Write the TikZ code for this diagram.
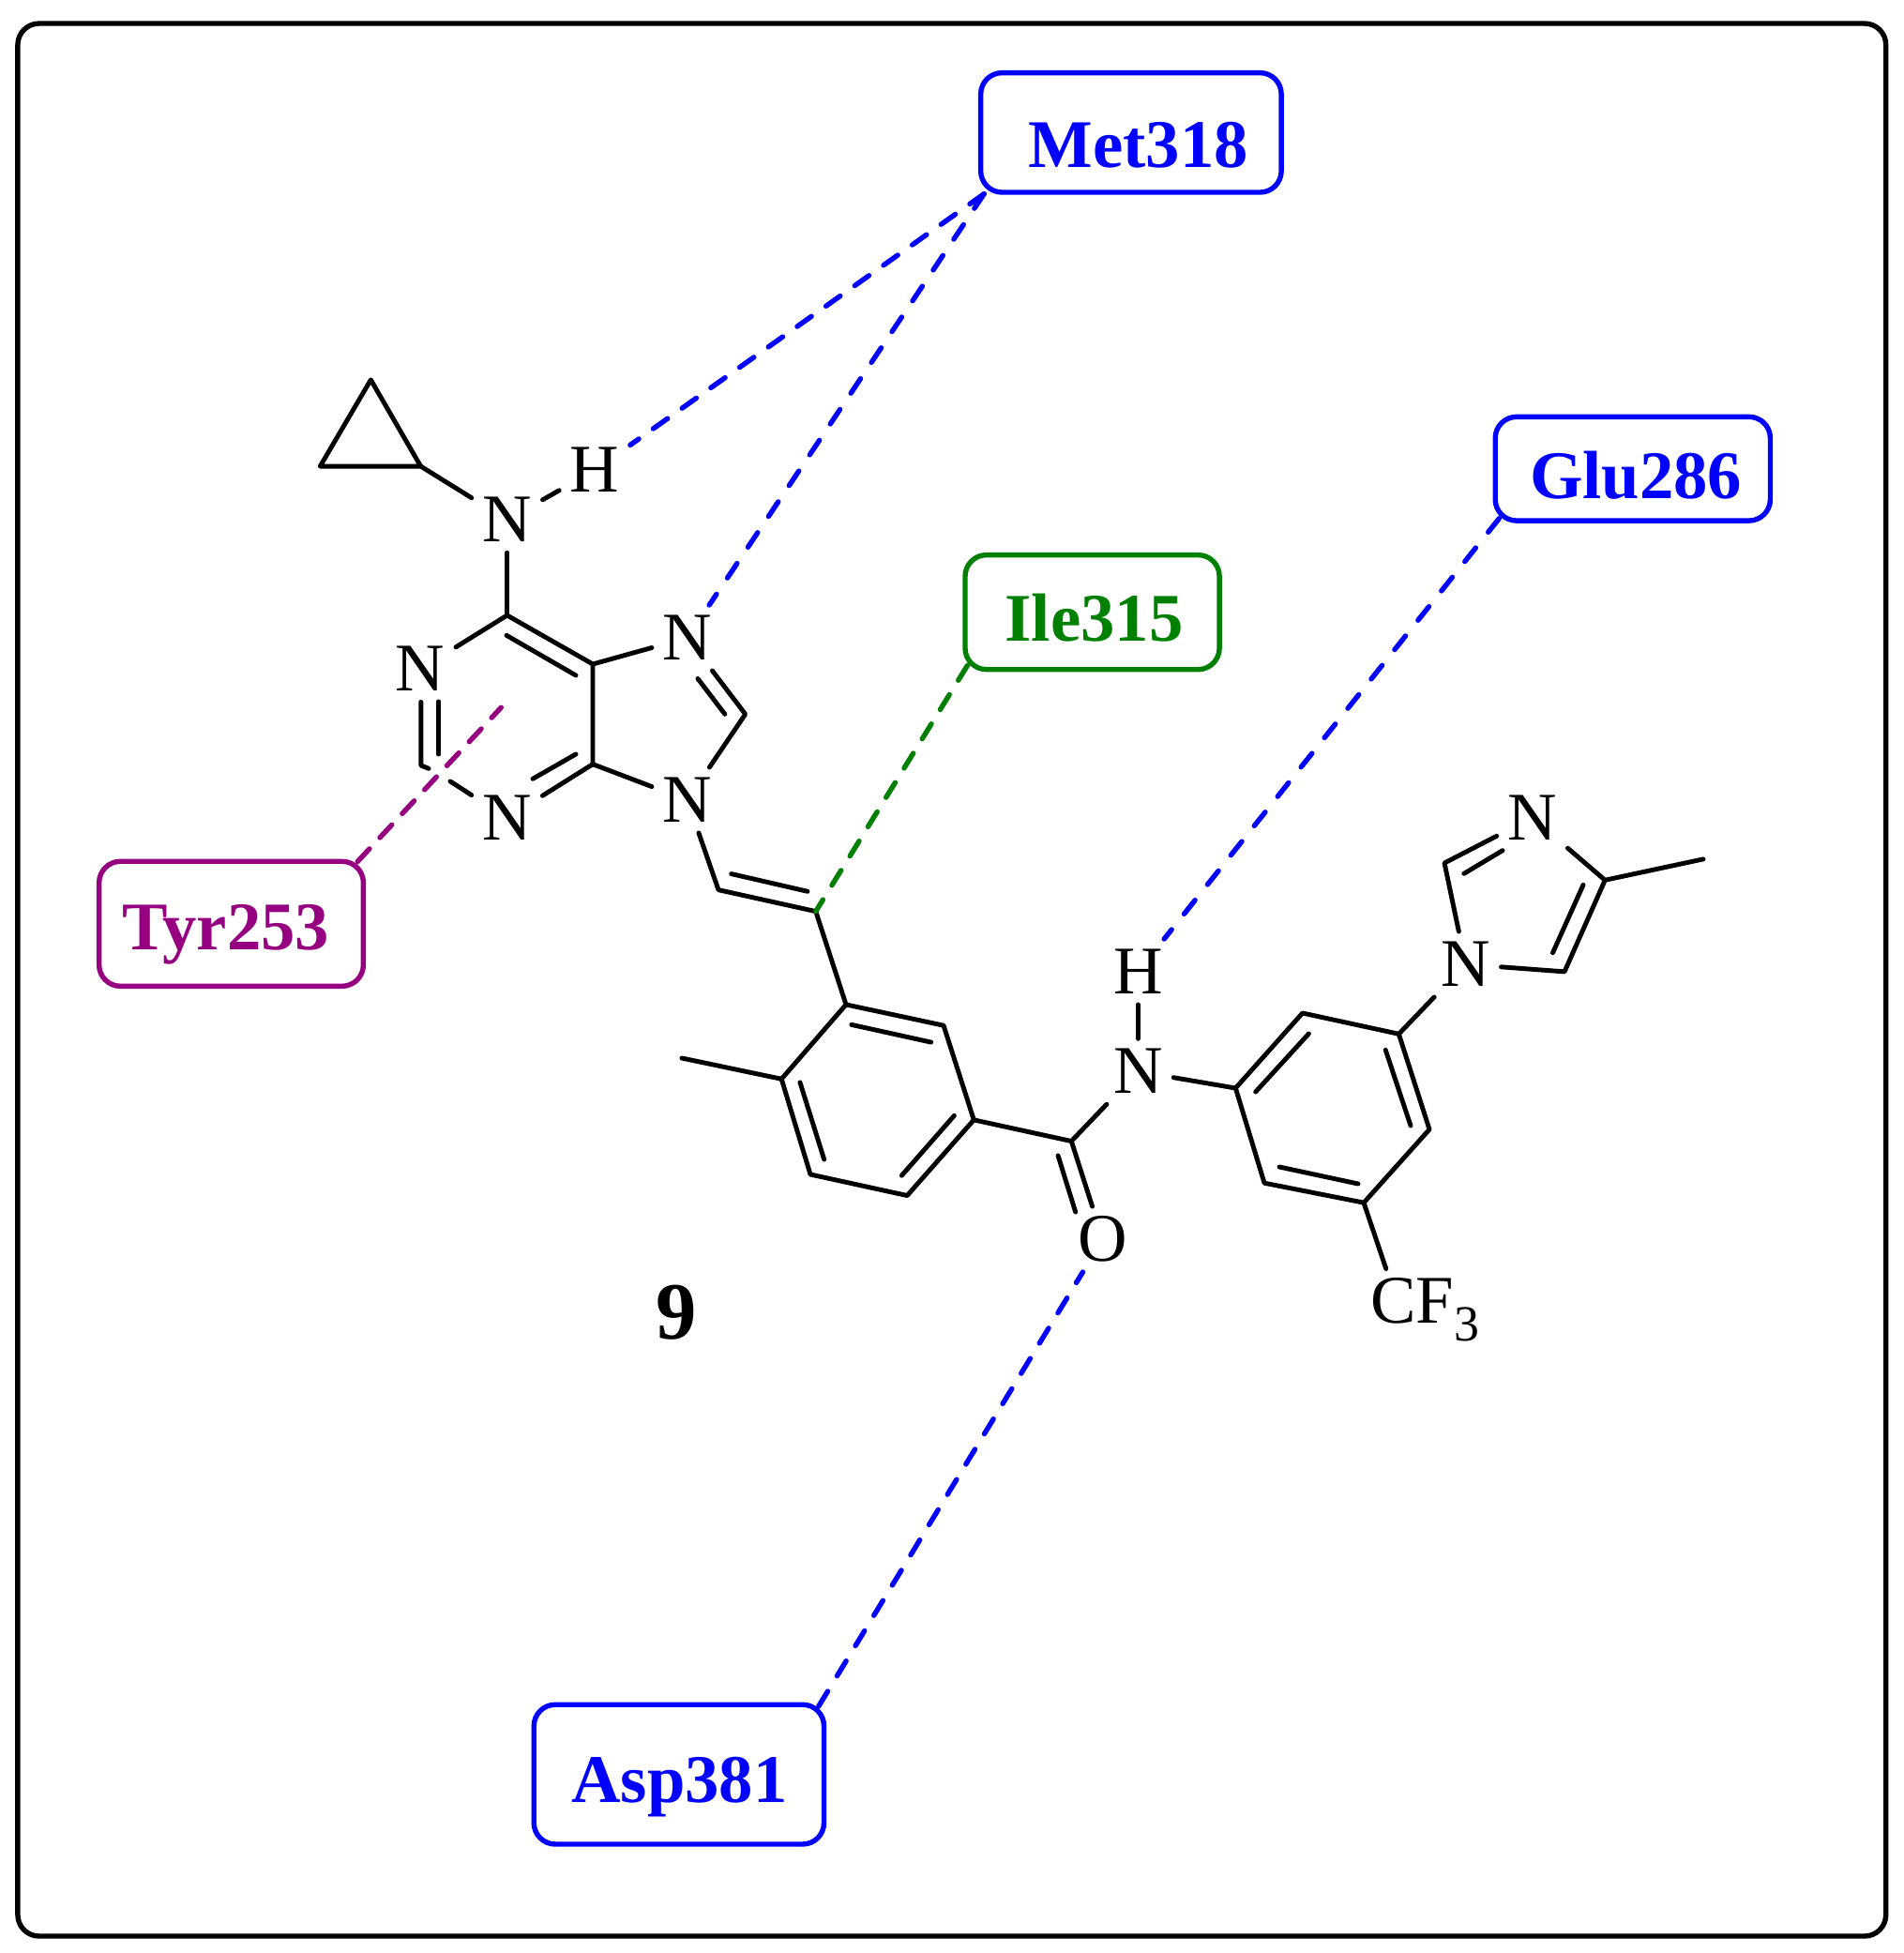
\documentclass[tikz,border=0pt]{standalone}
\usepackage{fontspec}
\setmainfont{Liberation Serif}
\usetikzlibrary{calc}
\definecolor{tyrpurple}{HTML}{960080}
\definecolor{ilegreen}{HTML}{008000}
\tikzset{
 bond/.style={line width=1.05pt,line cap=round,line join=round},
 atom/.style={inner sep=0.08cm,text height=0.35cm,text depth=0pt,font=\fontsize{15.5}{15.5}\selectfont},
 resbox/.style={draw=#1,text=#1,line width=1.15pt,rounded corners=0.17cm,inner sep=0pt,text depth=0pt,font=\fontsize{15.5}{15.5}\selectfont\bfseries},
 contact/.style={draw=#1,line width=1.15pt,line cap=round}
}
\begin{document}
\begin{tikzpicture}[x=0.01cm,y=-0.01cm]
 \useasboundingbox (0,0) rectangle (1522.5,1561.5);
 \draw[line width=1.15pt,rounded corners=0.17cm] (14.2,18.8) rectangle (1508,1548);
 % residues
 \node[resbox=blue,minimum width=2.402cm,minimum height=0.955cm,text height=0.562cm] (met) at (904.4,106) {\hspace*{0.118cm}Met318};
 \node[resbox=blue,minimum width=2.198cm,minimum height=0.83cm,text height=0.482cm] (glu) at (1305.6,374.8) {\hspace*{0.05cm}Glu286};
 \node[resbox=ilegreen,minimum width=2.032cm,minimum height=0.915cm,text height=0.462cm] (ile) at (873.4,489.5) {\hspace*{0.03cm}Ile315};
 \node[resbox=tyrpurple,minimum width=2.112cm,minimum height=0.997cm,text height=0.422cm] (tyr) at (184.9,738.6) {Tyr253\hspace*{0.086cm}};
 \node[resbox=blue,minimum width=2.318cm,minimum height=1.115cm,text height=0.442cm] (asp) at (542.9,1418.7) {\hspace*{0.01cm}Asp381};
 % atoms with a letter
 \node[atom] (nam) at (405.5,415.7) {N};
 \node[atom] (ham) at (475.5,376) {H};
 \node[atom] (n1) at (336.1,535) {N};
 \node[atom] (n3) at (405.4,654) {N};
 \node[atom] (n7) at (549.6,510) {N};
 \node[atom] (n9) at (549.6,639.7) {N};
 \node[atom] (nid) at (910,856.7) {N};
 \node[atom] (hid) at (910,777) {H};
 \node[atom] (oxy) at (881.8,990.8) {O};
 \node[atom] (nim) at (1172,771) {N};
 \node[atom] (nix) at (1225.2,653.8) {N};
 \node[atom] (cf) at (1139.3,1040.6) {CF\raisebox{-0.14cm}{\fontsize{11.5}{11.5}\selectfont 3}};
 \node[font=\fontsize{18.5}{18.5}\selectfont\bfseries] (cmpd) at (541,1049.6) {9};
 % carbons
 \coordinate (p1) at (296.5,303.7);
 \coordinate (p2) at (256,372.8);
 \coordinate (p3) at (336.4,372.8);
 \coordinate (c2) at (336.6,612);
 \coordinate (c4) at (474,611);
 \coordinate (c5) at (474,531);
 \coordinate (c6) at (405.5,492);
 \coordinate (c8) at (596,571);
 \coordinate (v1) at (574.5,711.5);
 \coordinate (v2) at (652.3,728.7);
 \coordinate (a1) at (676.5,803.2);
 \coordinate (a2) at (754.5,819.9);
 \coordinate (a3) at (778.7,895.4);
 \coordinate (a4) at (725.4,955.9);
 \coordinate (a5) at (648,939);
 \coordinate (a6) at (624.9,862.7);
 \coordinate (me1) at (545.2,846);
 \coordinate (co) at (856.7,912.4);
 \coordinate (b1) at (988,870);
 \coordinate (b2) at (1041.5,810);
 \coordinate (b3) at (1118.5,826.7);
 \coordinate (b4) at (1143,903);
 \coordinate (b5) at (1090.5,961.6);
 \coordinate (b6) at (1011,945.9);
 \coordinate (i2) at (1155,690);
 \coordinate (i4) at (1283.4,703.7);
 \coordinate (i5) at (1251,776.9);
 \coordinate (me2) at (1362,686.9);
 \coordinate (gap1) at (342.8,614.5);
 \coordinate (gap2) at (360,624.7);
 \coordinate (ringc) at (400.7,565.7);
 % bonds
 \draw[bond] (p1)--(p2)--(p3)--cycle;
 \draw[bond] (p3)--(nam);
 \draw[bond] (nam)--(ham);
 \draw[bond] (nam)--(c6);
 \draw[bond] (n1)--(c6)--(c5)--(c4);
 \draw[bond] (c5)--(n7);
 \draw[bond] (n7)--(c8)--(n9);
 \draw[bond] (c4)--(n9);
 \draw[bond] (c4)--(n3);
 \draw[bond] (n1.south -| c2)--(c2)--(gap1);
 \draw[bond] (gap2)--(n3);
 \draw[bond] (n9)--(v1)--(v2)--(a1);
 \draw[bond] (a1)--(a2)--(a3)--(a4)--(a5)--(a6)--cycle;
 \draw[bond] (a6)--(me1);
 \draw[bond] (a3)--(co)--(nid);
 \draw[bond] (co)--(oxy);
 \draw[bond] (nid)--(hid);
 \draw[bond] (nid)--(b1);
 \draw[bond] (b1)--(b2)--(b3)--(b4)--(b5)--(b6)--cycle;
 \draw[bond] (b3)--(nim);
 \draw[bond] (b5)--($(cf.north)+(-31,0)$);
 \draw[bond] (nim)--(i2)--(nix);
 \draw[bond] (nix)--(i4)--(i5)--(nim);
 \draw[bond] (i4)--(me2);
 % inner lines of the double bonds
 \draw[bond] (405,508)--(460.5,540);
 \draw[bond] (460.5,603)--(426,622.7);
 \draw[bond] (350.8,561)--(350.8,603);
 \draw[bond] (558,542.6)--(579.6,571);
 \draw[bond] (584.8,698.7)--(645.7,712.7);
 \draw[bond] (680.9,819.3)--(744.5,833.3);
 \draw[bond] (763,892)--(721,939.9);
 \draw[bond] (659,927)--(639.7,865.4);
 \draw[bond] (846,923.9)--(860,969);
 \draw[bond] (1004,873)--(1046.5,826.5);
 \draw[bond] (1107.9,839.5)--(1128,900);
 \draw[bond] (1086,946.5)--(1023,933);
 \draw[bond] (1170.6,698.5)--(1201.5,680);
 \draw[bond] (1266,707.5)--(1241.6,761.8);
 % contacts, each from the box to the atom
 \draw[contact=blue,dash pattern=on 0.14cm off 0.142cm] ($(met.south west)+(4.7,-0.8)$)--(ham);
 \draw[contact=blue,dash pattern=on 0.14cm off 0.156cm] ($(met.south west)+(4.7,-0.8)$)--(n7);
 \draw[contact=blue,dash pattern=on 0.14cm off 0.16cm] ($(glu.south west)+(5.1,-3.8)$)--(hid);
 \draw[contact=blue,dash pattern=on 0.14cm off 0.143cm] ($(asp.north east)+(-6.3,3.3)$)--(oxy);
 \draw[contact=ilegreen,dash pattern=on 0.14cm off 0.135cm] ($(ile.south west)+(3.9,-5.3)$)--(v2);
 \draw[contact=tyrpurple,dash pattern=on 0.14cm off 0.122cm] ($(tyr.north east)+(-6.7,2.2)$)--(ringc);
\end{tikzpicture}
\end{document}
